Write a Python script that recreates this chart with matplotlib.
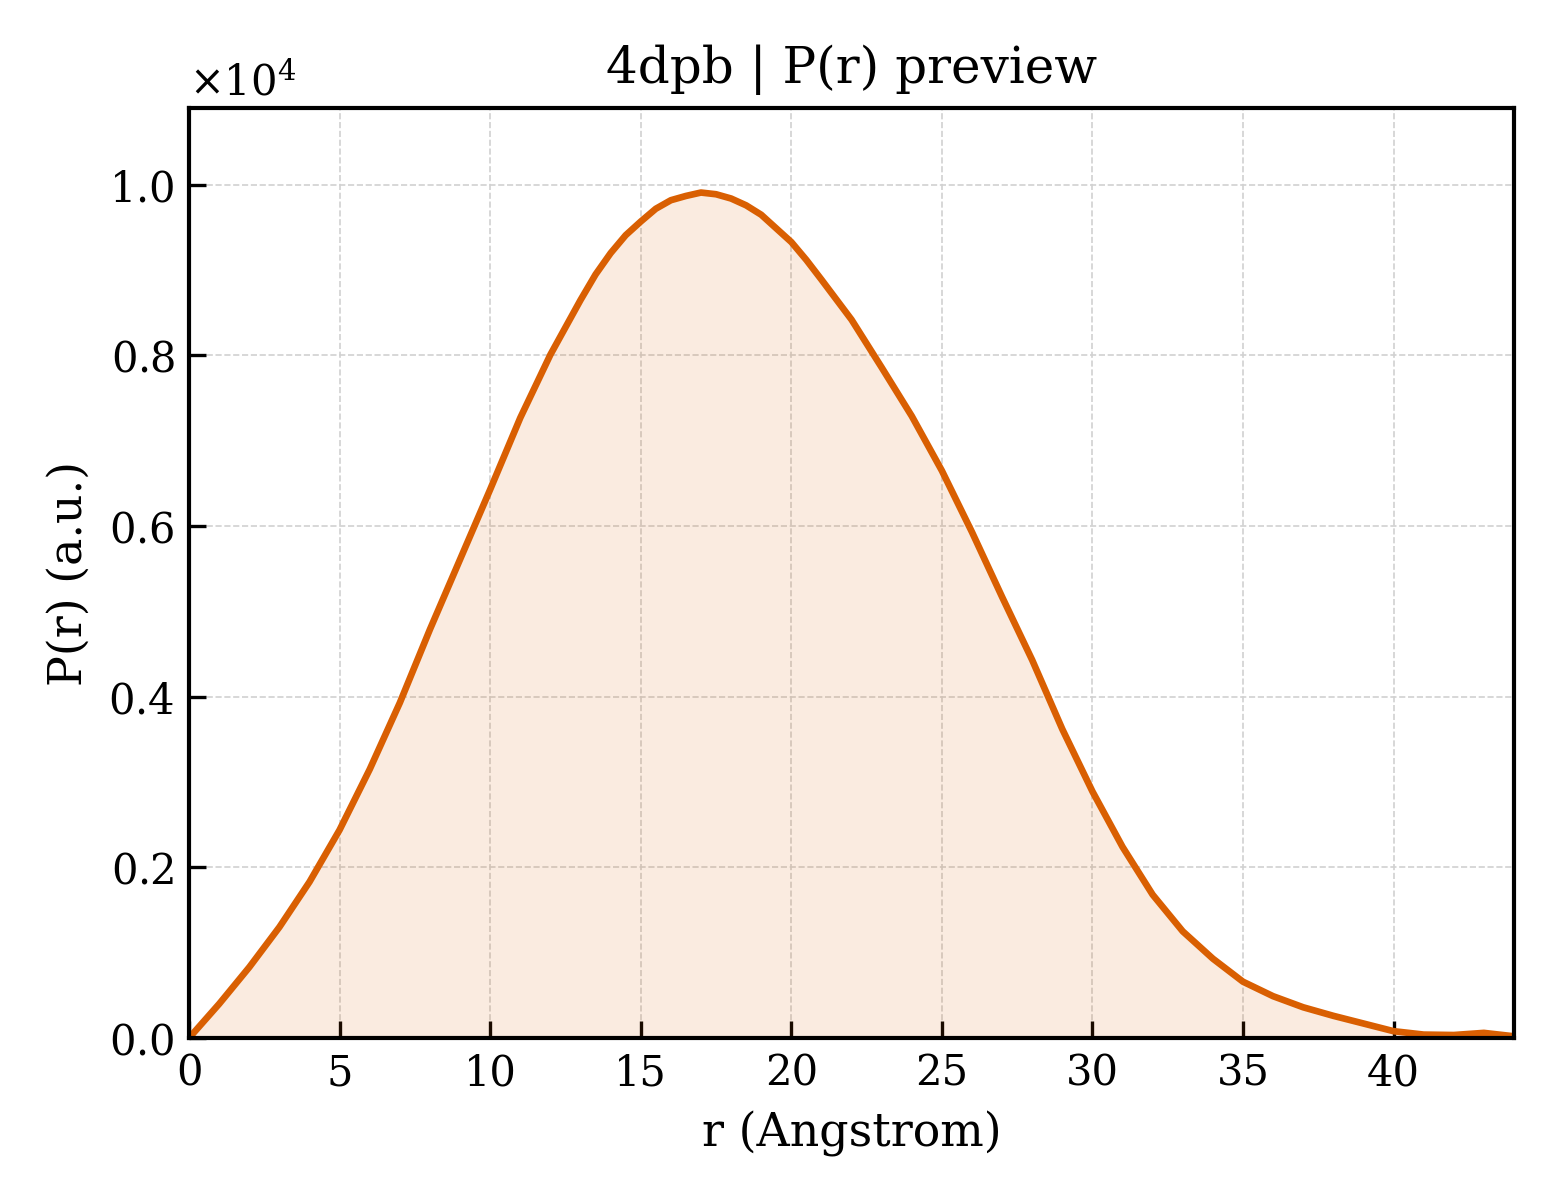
import numpy as np
import matplotlib
matplotlib.use("Agg")
import matplotlib.pyplot as plt

# P(r), r in Angstrom, P in a.u. (x1e4)
r = np.array([
    0, 1, 2, 3, 4, 5, 6, 7, 8, 9,
    10, 11, 12, 13, 13.5, 14, 14.5, 15, 15.5, 16,
    16.5, 17, 17.5, 18, 18.5, 19, 19.5, 20, 20.5, 21,
    22, 23, 24, 25, 26, 27, 28, 29, 30, 31,
    32, 33, 34, 35, 36, 37, 38, 39, 40, 41,
    42, 43, 44,
])
pr = np.array([
    0.000, 0.040, 0.083, 0.130, 0.183, 0.244, 0.315, 0.393, 0.479, 0.561,
    0.643, 0.727, 0.801, 0.865, 0.895, 0.920, 0.941, 0.957, 0.972, 0.982,
    0.987, 0.991, 0.989, 0.984, 0.976, 0.965, 0.949, 0.933, 0.912, 0.889,
    0.842, 0.786, 0.729, 0.665, 0.593, 0.517, 0.443, 0.362, 0.289, 0.224,
    0.168, 0.125, 0.093, 0.066, 0.049, 0.036, 0.026, 0.017, 0.008, 0.004,
    0.0035, 0.006, 0.002,
]) * 1e4

title = "4dpb | P(r) preview"
line_color = "#D95F02"

plt.rcParams["font.family"] = ["DejaVu Serif"]
plt.rcParams["mathtext.fontset"] = "dejavuserif"

fig, ax = plt.subplots(figsize=(5.2, 4.0), dpi=300)
fig.subplots_adjust(left=0.1212, right=0.9705, top=0.91, bottom=0.135)

ax.fill_between(r, pr, 0, color=line_color, alpha=0.12, linewidth=0)
ax.plot(r, pr, color=line_color, lw=1.6)

ax.set_xlim(0, r.max())
ax.set_ylim(0, pr.max() * 1.1)

ax.set_xlabel("r (Angstrom)", fontsize=11)
ax.set_ylabel("P(r) (a.u.)", fontsize=11)
ax.set_title(title, fontsize=12)

ax.ticklabel_format(axis="y", style="sci", scilimits=(0, 0), useMathText=True)
ax.yaxis.get_offset_text().set_fontsize(10)

ax.tick_params(direction="in", length=4, width=0.8, labelsize=10)
for s in ax.spines.values():
    s.set_linewidth(1.0)

ax.grid(True, ls="--", lw=0.4, color="0.82")
ax.set_axisbelow(True)

fig.savefig("out.png", dpi=300)
